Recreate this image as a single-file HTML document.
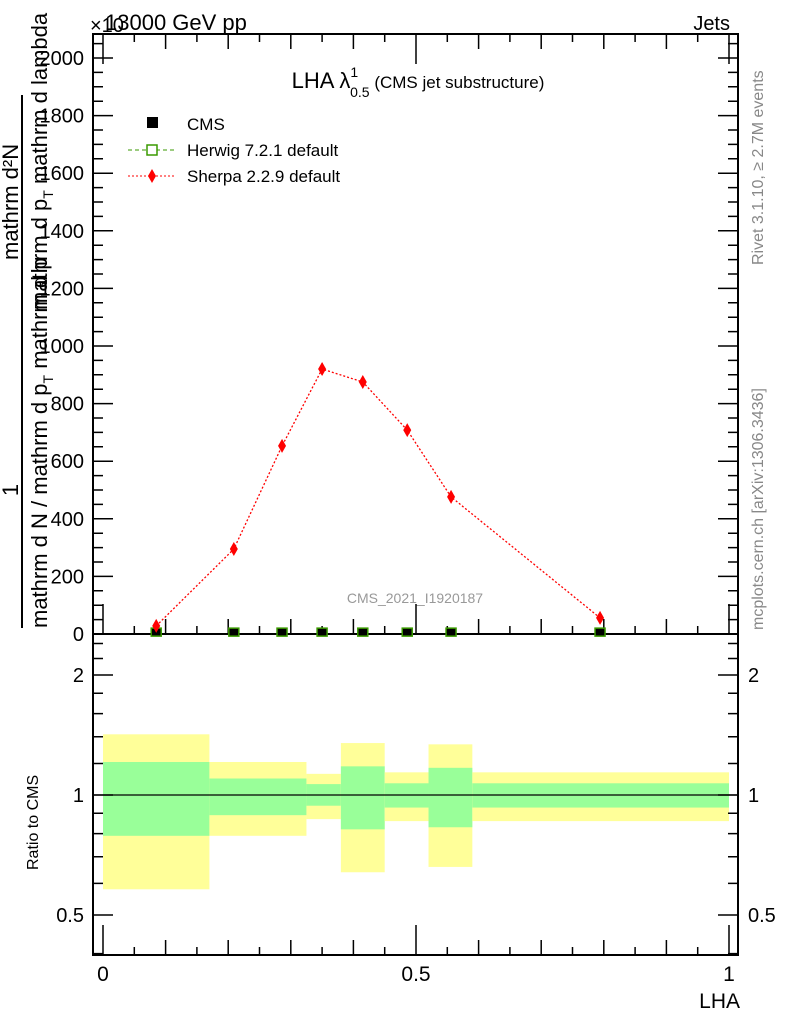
<!DOCTYPE html>
<html><head><meta charset="utf-8"><style>body{margin:0;background:#fff}svg{display:block;font-family:"Liberation Sans",sans-serif}</style></head>
<body>
<svg id="c" width="786" height="1024" viewBox="0 0 786 1024">
<g id="static">
<text x="105" y="30" font-size="22">13000 GeV pp</text>
<text x="90" y="32" font-size="20">×10</text>
<text x="730" y="30" font-size="20" text-anchor="end">Jets</text>
<text x="418" y="88" font-size="22" text-anchor="middle">LHA λ<tspan font-size="14" dy="-11">1</tspan><tspan font-size="14" dx="-8" dy="20">0.5</tspan><tspan dy="-9" font-size="17"> (CMS jet substructure)</tspan></text>
<rect x="147" y="117" width="11" height="11" fill="#000"/>
<text x="187" y="130" font-size="17">CMS</text>
<line x1="128" y1="150" x2="175" y2="150" stroke="#3a9a00" stroke-dasharray="4,3"/>
<rect x="147" y="145" width="10" height="10" fill="#fff" stroke="#3a9a00" stroke-width="1.5"/>
<text x="187" y="156" font-size="17">Herwig 7.2.1 default</text>
<line x1="128" y1="176" x2="175" y2="176" stroke="#f00" stroke-dasharray="2,2"/>
<path d="M152,169 L156,176 L152,183 L148,176Z" fill="#f00"/>
<text x="187" y="182" font-size="17">Sherpa 2.2.9 default</text>
<text x="415" y="603" font-size="14" fill="#999" text-anchor="middle">CMS_2021_I1920187</text>
<line x1="22" y1="95" x2="22" y2="628" stroke="#000" stroke-width="2"/>
<text transform="translate(18,490) rotate(-90)" font-size="22" text-anchor="middle">1</text>
<text transform="translate(18,260) rotate(-90)" font-size="22">mathrm d²N</text>
<text transform="translate(47,628) rotate(-90)" font-size="22">mathrm d N / mathrm d p<tspan font-size="14" dy="6">T</tspan><tspan dy="-6"> mathrm d p</tspan></text>
<text transform="translate(47,310) rotate(-90)" font-size="22">mathrm d p<tspan font-size="14" dy="6">T</tspan><tspan dy="-6"> mathrm d lambda</tspan></text>
<text transform="translate(763,265) rotate(-90)" font-size="16" fill="#888">Rivet 3.1.10, ≥ 2.7M events</text>
<text transform="translate(763,630) rotate(-90)" font-size="16" fill="#888">mcplots.cern.ch [arXiv:1306.3436]</text>
<text transform="translate(38,870) rotate(-90)" font-size="16">Ratio to CMS</text>
<text x="740" y="1008" font-size="21" text-anchor="end">LHA</text>
</g>
<g id="bands"></g><g id="axes"></g><g id="marks"></g>
</svg>
<script>
const sherpaX=[0.085,0.209,0.286,0.35,0.415,0.486,0.556,0.794];
const sherpaY=[28,295,653,920,875,708,476,56];
const sherpaErr=[12,12,15,20,18,15,12,8];
const cmsX=[0.085,0.209,0.286,0.35,0.415,0.486,0.556,0.794];
const cmsY=[3,3,3,3,3,3,3,3];
const binEdges=[0,0.17,0.25,0.325,0.38,0.45,0.52,0.59,1.0];
const yellowHi=[1.42,1.21,1.21,1.13,1.35,1.14,1.34,1.14];
const yellowLo=[0.58,0.79,0.79,0.87,0.64,0.86,0.66,0.86];
const greenHi=[1.21,1.10,1.10,1.065,1.18,1.07,1.17,1.07];
const greenLo=[0.79,0.89,0.89,0.94,0.82,0.93,0.83,0.93];
const yTicks=[0,200,400,600,800,1000,1200,1400,1600,1800,2000];
const rTicks=[0.5,1,2];
const NS='http://www.w3.org/2000/svg';
const L=93,R=738,T=34,B=634,RB=955;
const X=v=>103+v*626;
const Y=v=>634-v*0.288;
const RY=v=>795-173.1*Math.log(v);
function mk(p,tag,a){const e=document.createElementNS(NS,tag);for(const k in a)e.setAttribute(k,a[k]);document.getElementById(p).appendChild(e);return e;}
for(let i=0;i<binEdges.length-1;i++){
 const y=mk('bands','rect',{x:X(binEdges[i]),y:RY(yellowHi[i]),width:X(binEdges[i+1])-X(binEdges[i]),height:RY(yellowLo[i])-RY(yellowHi[i]),fill:'#ffff99'});
 
 
 const g=mk('bands','rect',{x:X(binEdges[i]),y:RY(greenHi[i]),width:X(binEdges[i+1])-X(binEdges[i]),height:RY(greenLo[i])-RY(greenHi[i]),fill:'#99ff99'});
 
 
}
const one=mk('bands','line',{x1:L,x2:R,y1:RY(1),y2:RY(1),stroke:'#000','stroke-width':1.2});


const f1=mk('axes','rect',{x:L,y:T,width:R-L,height:B-T,fill:'none',stroke:'#000','stroke-width':2});


const f2=mk('axes','rect',{x:L,y:B,width:R-L,height:RB-B,fill:'none',stroke:'#000','stroke-width':2});


let d='';
for(let v=0;v<=2080;v+=50){const y=Y(v);const len=v%200===0?20:10;d+=`M${L},${y}h${len}M${R},${y}h${-len}`;}
for(let k=0;k<=20;k++){const v=k*0.05,x=X(v);const len=k%10===0?30:(k%2===0?15:8);d+=`M${x},${B}v${-len}M${x},${T}v${len}M${x},${RB}v${-len}`;}
[0.4,0.5,0.6,0.7,0.8,0.9,1,1.2,1.4,1.6,1.8,2,2.2,2.4].forEach(v=>{const y=RY(v);const len=rTicks.includes(v)?20:10;d+=`M${L},${y}h${len}M${R},${y}h${-len}`;});
const tp=mk('axes','path',{d:d,stroke:'#000','stroke-width':1.5,fill:'none'});


yTicks.forEach(v=>{const t=mk('axes','text',{x:84,y:Y(v)+7,'font-size':20,'text-anchor':'end'});t.textContent=v;
 
 });
rTicks.forEach(v=>{[[84,'end'],[748,'start']].forEach(([x,a])=>{const t=mk('axes','text',{x:x,y:RY(v)+7,'font-size':20,'text-anchor':a});t.textContent=v;
 
 });});
[0,0.5,1].forEach(v=>{const t=mk('axes','text',{x:X(v),y:981,'font-size':21,'text-anchor':'middle'});t.textContent=v;
 
 });
cmsX.forEach((v,i)=>{const r=mk('marks','rect',{x:X(v)-5,y:Y(cmsY[i])-5,width:10,height:8,fill:'#000',stroke:'#3a9a00','stroke-width':1.5});
 
 });
const line=mk('marks','polyline',{points:sherpaX.map((v,i)=>X(v)+','+Y(sherpaY[i])).join(' '),fill:'none',stroke:'#f00','stroke-width':1.3,'stroke-dasharray':'2,2'});


sherpaX.forEach((v,i)=>{const x=X(v),y=Y(sherpaY[i]);
 const e=mk('marks','line',{x1:x,x2:x,y1:Y(sherpaY[i]+sherpaErr[i]),y2:Y(sherpaY[i]-sherpaErr[i]),stroke:'#f00','stroke-width':1.5});
 
 
 const p=mk('marks','path',{d:`M${x},${y-7}L${x+4},${y}L${x},${y+7}L${x-4},${y}Z`,fill:'#f00'});
 
 });
</script>
</body></html>
